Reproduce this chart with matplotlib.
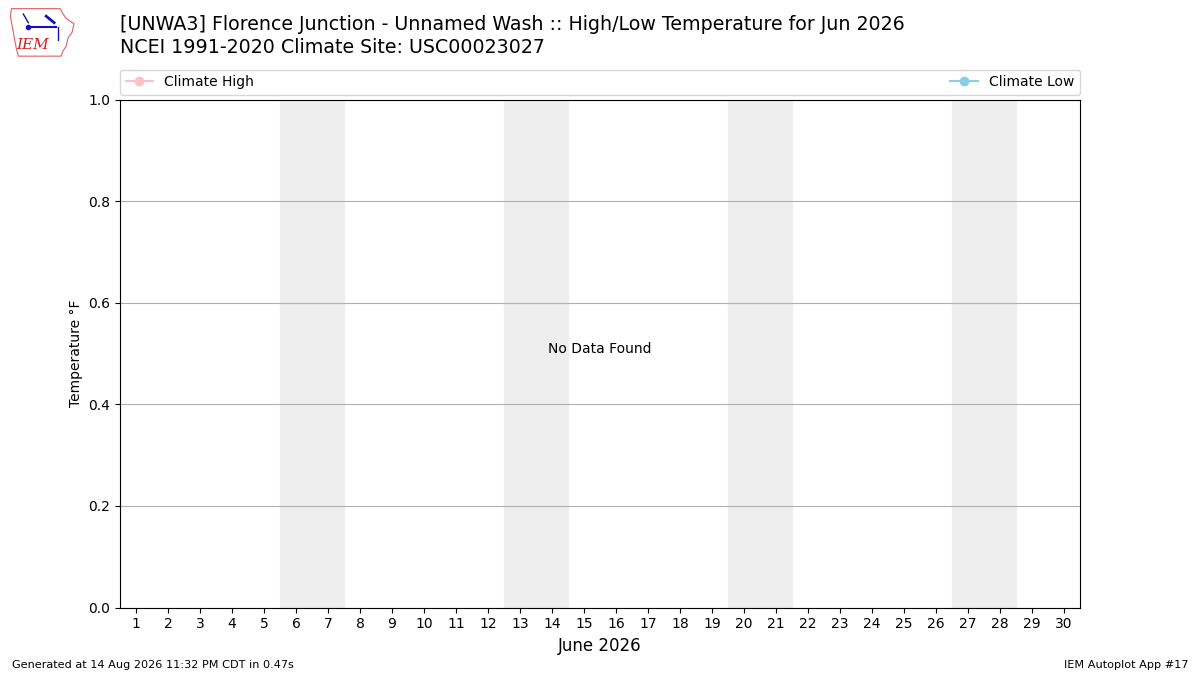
import matplotlib
matplotlib.use("Agg")
import matplotlib.pyplot as plt
from matplotlib.patches import Polygon

# station / chart text
title_line1 = "[UNWA3] Florence Junction - Unnamed Wash :: High/Low Temperature for Jun 2026"
title_line2 = "NCEI 1991-2020 Climate Site: USC00023027"
footer_left = "Generated at 14 Aug 2026 11:32 PM CDT in 0.47s"
footer_right = "IEM Autoplot App #17"

days = list(range(1, 31))
weekends = [(6, 7), (13, 14), (20, 21), (27, 28)]
# no observations were found, climate series are empty
climate_high = []
climate_low = []
climate_days = []

fig = plt.figure(figsize=(12, 6.75), dpi=100)
ax = fig.add_axes([0.1, 0.1, 0.8, 0.752])

for s, e in weekends:
    ax.axvspan(s - 0.5, e + 0.5, color="#eeeeee", zorder=0)

ax.plot(climate_days, climate_high, "-o", color="pink", label="Climate High")
ax.plot(climate_days, climate_low, "-o", color="skyblue", label="Climate Low")

ax.text(0.5, 0.51, "No Data Found", transform=ax.transAxes, ha="center", va="center", fontsize=10)

ax.set_xlim(0.5, 30.5)
ax.set_ylim(0, 1)
ax.set_xticks(days)
ax.set_xlabel("June 2026", fontsize=12)
ax.set_ylabel("Temperature \u00b0F")
ax.grid(True, axis="y")
ax.legend(loc="lower left", bbox_to_anchor=(0, 1.01, 1, 0.05), ncol=2, mode="expand",
          borderaxespad=0, fontsize=10)

fig.text(0.1, 0.964, title_line1, fontsize=13.7, va="center")
fig.text(0.1, 0.93, title_line2, fontsize=13.7, va="center")
fig.text(0.01, 0.015, footer_left, fontsize=8.1, va="center")
fig.text(0.99, 0.015, footer_right, fontsize=8.1, va="center", ha="right")

# rough IEM logo
lax = fig.add_axes([0.007, 0.912, 0.058, 0.08])
lax.set_xlim(0, 70)
lax.set_ylim(0, 50)
lax.axis("off")
iowa = [(3, 47), (52, 47), (55, 42), (58, 38), (66, 33), (64, 25), (60, 20), (58, 12),
        (55, 8), (53, 3), (10, 3), (8, 10), (6, 20), (4, 30), (2, 40)]
lax.add_patch(Polygon(iowa, closed=True, fill=False, edgecolor="#e06060", lw=0.8))
lax.text(8, 13, "IEM", color="#d02020", fontsize=11, family="DejaVu Serif", style="italic", va="center")
lax.plot([20, 48], [30, 30], color="#1010c0", lw=1.5)
lax.plot([20], [30], "o", color="#1010c0", ms=3)
lax.plot([15, 20], [42, 34], color="#1010c0", lw=1)
lax.plot([38, 46], [40, 34], color="#1010c0", lw=2)
lax.plot([50, 50], [30, 18], color="#1010c0", lw=1)

fig.savefig("out.png", dpi=100)
